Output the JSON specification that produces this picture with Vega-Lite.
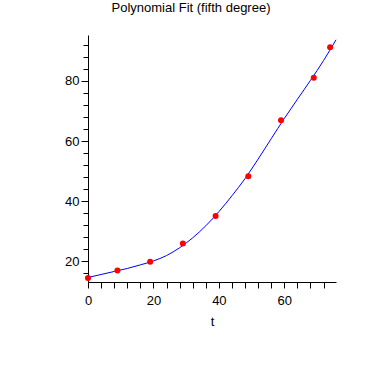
{
  "$schema": "https://vega.github.io/schema/vega-lite/v6.json",
  "width": 248,
  "height": 247,
  "autosize": {"type": "none"},
  "padding": {"left": 88, "top": 35, "right": 46, "bottom": 100},
  "background": "white",
  "title": {
    "text": "Polynomial Fit (fifth degree)",
    "font": "Liberation Sans",
    "fontSize": 13,
    "fontWeight": "normal",
    "color": "black",
    "anchor": "middle",
    "dx": -21,
    "offset": 10.5,
    "baseline": "alphabetic"
  },
  "config": {
    "view": {"stroke": null},
    "axis": {
      "labelFont": "Liberation Sans",
      "labelFontSize": 13,
      "labelColor": "black",
      "titleFont": "Liberation Sans",
      "titleFontSize": 13,
      "titleFontWeight": "normal",
      "titleColor": "black",
      "domainColor": "black",
      "tickColor": "black",
      "grid": false,
      "labelFlush": false
    }
  },
  "datasets": {
    "curve": [
      {"t": 0, "v": 14.6},
      {"t": 4, "v": 15.6},
      {"t": 8, "v": 16.6},
      {"t": 12, "v": 17.6},
      {"t": 16, "v": 18.8},
      {"t": 20, "v": 20.1},
      {"t": 24, "v": 21.9},
      {"t": 28, "v": 24.5},
      {"t": 32, "v": 27.8},
      {"t": 36, "v": 31.8},
      {"t": 40, "v": 36.5},
      {"t": 44, "v": 41.8},
      {"t": 48, "v": 47.5},
      {"t": 52, "v": 54.0},
      {"t": 56, "v": 60.8},
      {"t": 60, "v": 67.5},
      {"t": 64, "v": 73.9},
      {"t": 68, "v": 80.2},
      {"t": 72, "v": 86.8},
      {"t": 75.8, "v": 93.7}
    ],
    "points": [
      {"t": 0, "v": 14.4},
      {"t": 9, "v": 16.9},
      {"t": 19, "v": 19.8},
      {"t": 29, "v": 25.9},
      {"t": 39, "v": 35.1},
      {"t": 49, "v": 48.3},
      {"t": 59, "v": 66.9},
      {"t": 69, "v": 81.1},
      {"t": 74, "v": 91.2}
    ]
  },
  "encoding": {
    "x": {
      "field": "t",
      "type": "quantitative",
      "scale": {"domain": [0, 75.8], "nice": false, "zero": false},
      "axis": {
        "title": "t",
        "values": [0, 4, 8, 12, 16, 20, 24, 28, 32, 36, 40, 44, 48, 52, 56, 60, 64, 68, 72],
        "labelExpr": "datum.value % 20 === 0 ? datum.label : ''",
        "tickSize": 6,
        "labelPadding": 6,
        "titlePadding": 8
      }
    },
    "y": {
      "field": "v",
      "type": "quantitative",
      "scale": {"domain": [13.1, 95.3], "nice": false, "zero": false},
      "axis": {
        "title": null,
        "values": [16, 20, 24, 28, 32, 36, 40, 44, 48, 52, 56, 60, 64, 68, 72, 76, 80, 84, 88, 92],
        "labelExpr": "datum.value % 20 === 0 ? datum.label : ''",
        "tickSize": {"condition": {"test": "datum.value % 20 === 0", "value": 7}, "value": 5},
        "labelPadding": 2
      }
    }
  },
  "layer": [
    {
      "data": {"name": "curve"},
      "mark": {"type": "line", "color": "#0000ff", "strokeWidth": 1, "interpolate": "monotone"}
    },
    {
      "data": {"name": "points"},
      "mark": {"type": "circle", "color": "#ff0000", "opacity": 1, "size": 36}
    }
  ]
}
